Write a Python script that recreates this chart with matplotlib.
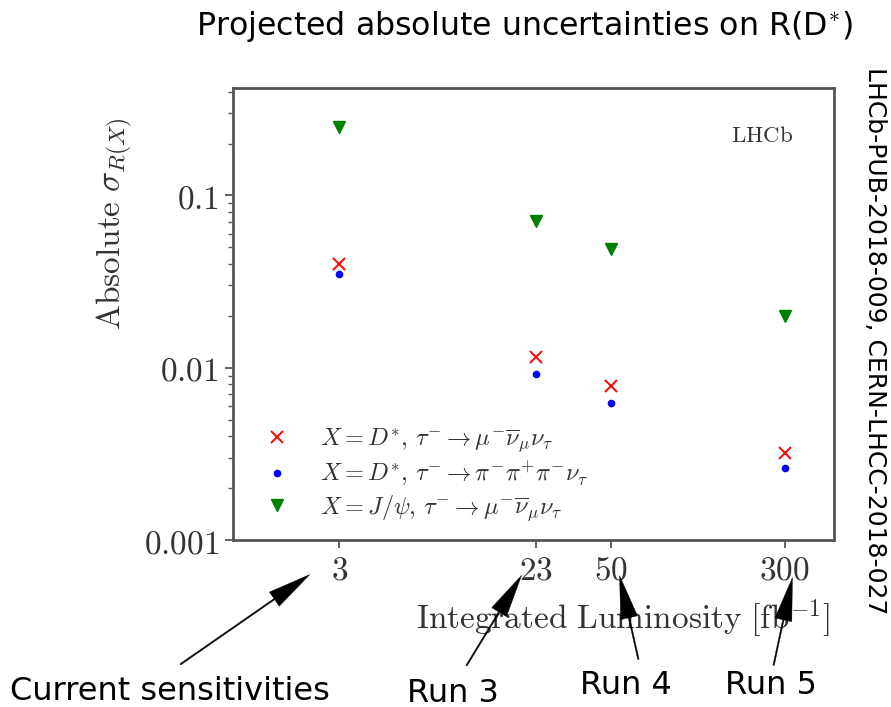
import matplotlib
matplotlib.use('Agg')
from matplotlib import pyplot as plt

# Integrated luminosity scenarios [fb^-1]
lumi = [3, 23, 50, 300]
lumi_labels = ['$3$', '$23$', '$50$', '$300$']

# Absolute uncertainty on R(X) for each channel
dstar_muon = [0.040, 0.0115, 0.0078, 0.0032]
dstar_pion = [0.035, 0.0092, 0.0062, 0.0026]
jpsi_muon = [0.25, 0.071, 0.049, 0.020]

y_ticks = [0.001, 0.01, 0.1]
y_tick_labels = ['$0.001$', '$0.01$', '$0.1$']

run_names = ['Current sensitivities', 'Run 3', 'Run 4', 'Run 5']

plt.rcParams['mathtext.fontset'] = 'cm'

W, H = 891, 707
fig = plt.figure(figsize=(W / 100, H / 100), dpi=100)
ax = fig.add_axes([233 / W, 1 - 540 / H, 601 / W, 452 / H])

ax.plot(lumi, dstar_muon, 'rx', ms=8, mew=1.4,
        label=r'$X = D^{*},\, \tau^{-} \to \mu^{-}\overline{\nu}_{\mu}\nu_{\tau}$')
ax.plot(lumi, dstar_pion, 'b.', ms=9,
        label=r'$X = D^{*},\, \tau^{-} \to \pi^{-}\pi^{+}\pi^{-}\nu_{\tau}$')
ax.plot(lumi, jpsi_muon, 'gv', ms=9,
        label=r'$X = J/\psi,\, \tau^{-} \to \mu^{-}\overline{\nu}_{\mu}\nu_{\tau}$')

ax.set_xscale('log')
ax.set_yscale('log')
ax.set_xlim(1, 500)
ax.set_ylim(0.001, 0.42)

txt_col = '#333333'
ax.set_xticks(lumi)
ax.set_xticklabels(lumi_labels)
ax.xaxis.set_minor_locator(matplotlib.ticker.NullLocator())
ax.set_yticks(y_ticks)
ax.set_yticklabels(y_tick_labels)
ax.tick_params(axis='both', which='both', direction='out', colors='#555555',
               labelcolor=txt_col, labelsize=24, top=False, right=False)
ax.tick_params(which='major', length=6, width=1.3, pad=4)
ax.tick_params(which='minor', length=3.5, width=1.0)
for sp in ax.spines.values():
    sp.set_color('#555555')
    sp.set_linewidth(2)

ax.set_xlabel(r'$\mathrm{Integrated\ Luminosity\ [fb}^{-1}\mathrm{]}$',
              fontsize=24, color=txt_col)
ax.xaxis.set_label_coords(0.649, -0.127)
ax.set_ylabel(r'$\mathrm{Absolute}\ \sigma_{R(X)}$', fontsize=24, color=txt_col)
ax.yaxis.set_label_coords(-0.163, 0.70)
ax.text(0.88, 0.896, r'$\mathrm{LHCb}$', transform=ax.transAxes, fontsize=16.5,
        color=txt_col, ha='center', va='center')

leg = ax.legend(loc='lower left', bbox_to_anchor=(0.041, 0.022),
                frameon=False, fontsize=17.5, handlelength=1.0,
                handletextpad=1.26, labelspacing=0.2,
                borderaxespad=0.0, borderpad=0.3)
for t in leg.get_texts():
    t.set_color(txt_col)

# Title and reference numbers
fig.text(525 / W, 1 - 27 / H, r'Projected absolute uncertainties on R(D$^{*}$)',
         family='DejaVu Sans', fontsize=22.8, ha='center', va='center')
fig.text(875 / W, 1 - 341 / H, 'LHCb-PUB-2018-009, CERN-LHCC-2018-027',
         family='DejaVu Sans', fontsize=18, rotation=270,
         ha='center', va='center')

# Run labels with arrows towards the luminosity ticks
text_pos = [(170, 692), (453, 693), (626, 686), (771, 686)]
arrow_tail = [(178, 666), (465, 668), (639, 662), (773, 668)]
arrow_tip = [(312, 573), (523, 573), (619, 573), (793, 575)]
for name, tp, tail, tip in zip(run_names, text_pos, arrow_tail, arrow_tip):
    fig.text(tp[0] / W, 1 - tp[1] / H, name, family='DejaVu Sans',
             fontsize=23, ha='center', va='center')
    fig.add_artist(matplotlib.patches.FancyArrowPatch(
        (tail[0] / W, 1 - tail[1] / H), (tip[0] / W, 1 - tip[1] / H),
        transform=fig.transFigure,
        arrowstyle='simple,head_length=1.55,head_width=0.62,tail_width=0.05',
        mutation_scale=20, color='black', lw=0.3))

fig.savefig('out.png', dpi=100)
